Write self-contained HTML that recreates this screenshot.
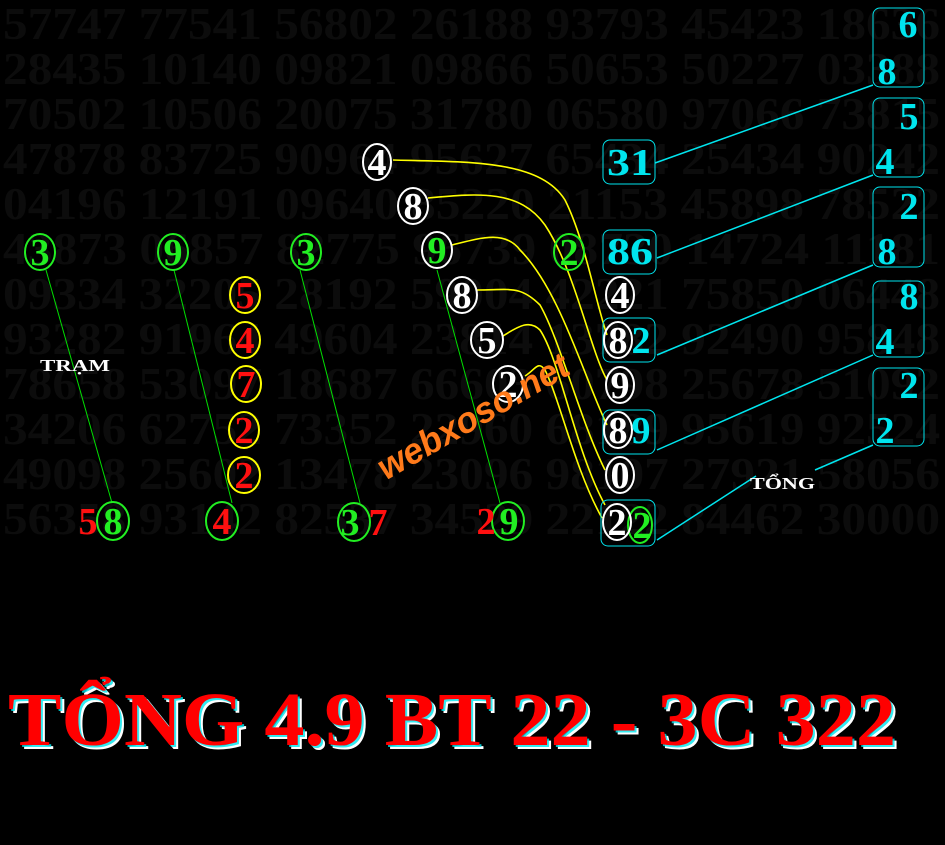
<!DOCTYPE html>
<html><head><meta charset="utf-8"><style>
html,body{margin:0;padding:0;background:#000;width:945px;height:845px;overflow:hidden}
svg{display:block}
text{font-family:"Liberation Serif",serif;font-weight:bold}
</style></head><body>
<svg width="945" height="845" viewBox="0 0 945 845" xmlns="http://www.w3.org/2000/svg">
<rect width="945" height="845" fill="#000"/>
<g fill="#0c0c0c" font-size="46">
<text x="3" y="39" textLength="937" lengthAdjust="spacingAndGlyphs">57747 77541 56802 26188 93793 45423 18636</text>
<text x="3" y="84" textLength="937" lengthAdjust="spacingAndGlyphs">28435 10140 09821 09866 50653 50227 03388</text>
<text x="3" y="129" textLength="937" lengthAdjust="spacingAndGlyphs">70502 10506 20075 31780 06580 97066 73815</text>
<text x="3" y="174" textLength="937" lengthAdjust="spacingAndGlyphs">47878 83725 90964 95627 65434 25434 90242</text>
<text x="3" y="219" textLength="937" lengthAdjust="spacingAndGlyphs">04196 12191 09640 85220 21153 45898 78522</text>
<text x="3" y="264" textLength="937" lengthAdjust="spacingAndGlyphs">43873 06857 82775 96739 08730 14724 11181</text>
<text x="3" y="309" textLength="937" lengthAdjust="spacingAndGlyphs">09334 32205 28192 59004 42221 75850 06448</text>
<text x="3" y="354" textLength="937" lengthAdjust="spacingAndGlyphs">93282 91964 49604 23814 13782 92490 95848</text>
<text x="3" y="399" textLength="937" lengthAdjust="spacingAndGlyphs">78658 53097 18687 66603 60798 25678 51092</text>
<text x="3" y="444" textLength="937" lengthAdjust="spacingAndGlyphs">34206 62752 73352 22960 68189 95619 92524</text>
<text x="3" y="489" textLength="937" lengthAdjust="spacingAndGlyphs">49098 25602 13478 23096 98107 27921 58056</text>
<text x="3" y="534" textLength="937" lengthAdjust="spacingAndGlyphs">56358 93142 82537 34529 22122 84462 30000</text>
</g>

<g stroke="#00e000" stroke-width="1">
<line x1="46" y1="270" x2="112" y2="503"/>
<line x1="174" y1="270" x2="232" y2="503"/>
<line x1="300" y1="270" x2="360" y2="503"/>
<line x1="437" y1="270" x2="500" y2="503"/>
</g>

<g stroke="#ffff00" stroke-width="1.6" fill="none">
<path d="M393,160 C470,162 540,160 565,200 C585,240 595,300 607,335"/>
<path d="M428,198 C480,193 520,190 545,225 C575,270 590,350 607,380"/>
<path d="M452,245 C480,238 505,230 520,250 C560,290 585,380 607,425"/>
<path d="M477,290 C510,290 520,285 540,305 C560,340 580,420 605,470"/>
<path d="M503,336 C520,325 530,320 540,330 C560,360 575,450 605,505"/>
<path d="M525,376 C535,370 538,360 545,370 C560,400 575,470 602,518"/>
</g>

<g stroke="#00e5ee" stroke-width="1.5" fill="none">
<line x1="655" y1="163" x2="873" y2="85"/>
<line x1="657" y1="258" x2="873" y2="175"/>
<line x1="657" y1="355" x2="873" y2="265"/>
<line x1="657" y1="450" x2="873" y2="355"/>
<line x1="657" y1="540" x2="756" y2="476"/>
<line x1="815" y1="470" x2="873" y2="445"/>
</g>
<g stroke="#00e5ee" stroke-width="1" fill="none">
<rect x="603" y="140" width="52" height="44" rx="7"/>
<rect x="603" y="230" width="53" height="44" rx="7"/>
<rect x="603" y="318" width="52" height="44" rx="7"/>
<rect x="603" y="410" width="52" height="44" rx="7"/>
<rect x="601" y="500" width="54" height="46" rx="7"/>
<rect x="873" y="8" width="51" height="79" rx="7"/>
<rect x="873" y="98" width="51" height="79" rx="7"/>
<rect x="873" y="187" width="51" height="80" rx="7"/>
<rect x="873" y="281" width="51" height="76" rx="7"/>
<rect x="873" y="368" width="51" height="78" rx="7"/>
</g>

<g fill="none" stroke-width="2">
<g stroke="#22ee22">
<ellipse cx="40" cy="252" rx="15" ry="18"/>
<ellipse cx="173" cy="252" rx="15" ry="18"/>
<ellipse cx="306" cy="252" rx="15" ry="18"/>
<ellipse cx="569" cy="252" rx="15" ry="18"/>
<ellipse cx="113" cy="521" rx="16" ry="19"/>
<ellipse cx="222" cy="521" rx="16" ry="19"/>
<ellipse cx="354" cy="522" rx="16" ry="19"/>
<ellipse cx="508" cy="521" rx="16" ry="19"/>
<ellipse cx="640" cy="525" rx="12" ry="18"/>
</g>
<g stroke="#ffff00">
<ellipse cx="245" cy="295" rx="15" ry="18"/>
<ellipse cx="245" cy="340" rx="15" ry="18"/>
<ellipse cx="246" cy="384" rx="15" ry="18"/>
<ellipse cx="244" cy="430" rx="15" ry="18"/>
<ellipse cx="244" cy="475" rx="16" ry="18"/>
</g>
<g stroke="#ffffff">
<ellipse cx="377" cy="162" rx="14" ry="18"/>
<ellipse cx="413" cy="206" rx="15" ry="18"/>
<ellipse cx="437" cy="250" rx="15" ry="18"/>
<ellipse cx="462" cy="295" rx="15" ry="18"/>
<ellipse cx="487" cy="340" rx="16" ry="18"/>
<ellipse cx="508" cy="384" rx="15" ry="18"/>
<ellipse cx="620" cy="295" rx="14" ry="18"/>
<ellipse cx="618" cy="340" rx="14" ry="18"/>
<ellipse cx="620" cy="385" rx="14" ry="18"/>
<ellipse cx="618" cy="430" rx="14" ry="18"/>
<ellipse cx="620" cy="475" rx="14" ry="18"/>
<ellipse cx="617" cy="522" rx="14" ry="18"/>
</g>
</g>

<g font-size="38" text-anchor="middle">
<g fill="#22ee22">
<text x="40" y="265">3</text><text x="173" y="265">9</text><text x="306" y="265">3</text>
<text x="569" y="265">2</text><text x="437" y="263">9</text>
<text x="113" y="534">8</text><text x="350" y="535">3</text><text x="509" y="534">9</text>
<text x="642" y="538">2</text>
</g>
<g fill="#ff1010">
<text x="245" y="308">5</text><text x="245" y="353">4</text><text x="246" y="397">7</text>
<text x="244" y="443">2</text><text x="244" y="488">2</text>
<text x="88" y="534">5</text><text x="222" y="534">4</text><text x="378" y="535">7</text><text x="486" y="534">2</text>
</g>
<g fill="#ffffff">
<text x="377" y="175">4</text><text x="413" y="219">8</text><text x="462" y="308">8</text>
<text x="487" y="353">5</text><text x="508" y="397">2</text>
<text x="620" y="308">4</text><text x="618" y="353">8</text><text x="620" y="398">9</text>
<text x="618" y="443">8</text><text x="620" y="488">0</text><text x="617" y="535">2</text>
</g>
<g fill="#00e5ee">
<text x="630" y="175" textLength="46" lengthAdjust="spacingAndGlyphs">31</text><text x="630" y="264" textLength="46" lengthAdjust="spacingAndGlyphs">86</text>
<text x="641" y="353">2</text><text x="641" y="443">9</text>
<text x="908" y="37">6</text><text x="887" y="84">8</text>
<text x="909" y="129">5</text><text x="885" y="174">4</text>
<text x="909" y="219">2</text><text x="887" y="264">8</text>
<text x="909" y="309">8</text><text x="885" y="354">4</text>
<text x="909" y="398">2</text><text x="885" y="443">2</text>
</g>
</g>

<text x="40" y="371" font-size="17" fill="#fff" textLength="70" lengthAdjust="spacingAndGlyphs">TRẠM</text>
<text x="750" y="489" font-size="17" fill="#fff" textLength="65" lengthAdjust="spacingAndGlyphs">TỔNG</text>

<text x="475" y="428" font-size="36" fill="#ff7a1a" text-anchor="middle" transform="rotate(-30 475 420)" style="font-family:'Liberation Sans',sans-serif;font-style:italic;font-weight:bold" textLength="215" lengthAdjust="spacingAndGlyphs">webxoso.net</text>

<g font-size="76">
<text x="12" y="749" fill="#fff" textLength="888" lengthAdjust="spacingAndGlyphs">TỔNG 4.9 BT 22 - 3C 322</text>
<text x="10" y="747" fill="#00e5ee" textLength="888" lengthAdjust="spacingAndGlyphs" opacity="0.8">TỔNG 4.9 BT 22 - 3C 322</text>
<text x="8" y="745" fill="#ff0000" textLength="888" lengthAdjust="spacingAndGlyphs">TỔNG 4.9 BT 22 - 3C 322</text>
</g>
</svg>
</body></html>
